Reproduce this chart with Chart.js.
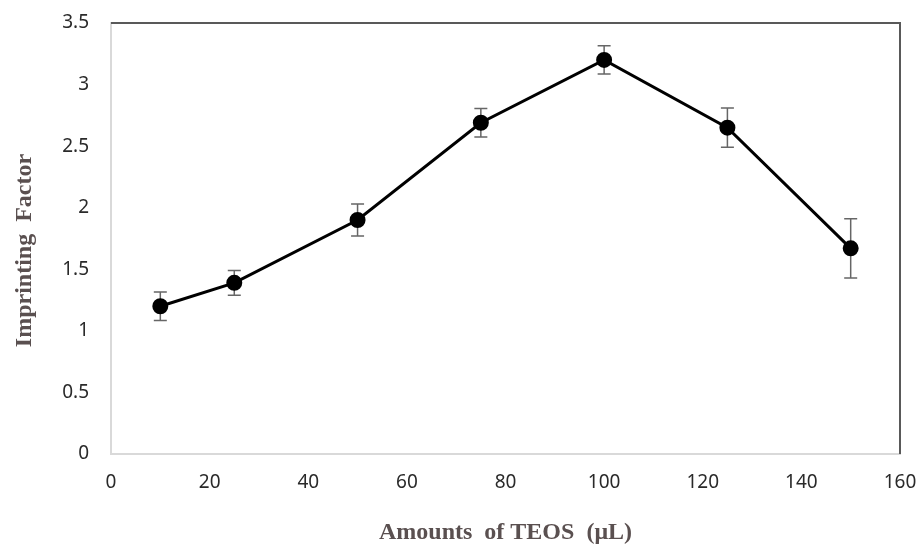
<!DOCTYPE html>
<html lang="en">
<head>
  <meta charset="UTF-8">
  <title>Imprinting Factor vs TEOS</title>
  <script src="https://cdn.jsdelivr.net/npm/chart.js"></script>
  <style>
    body { margin: 0; background: #fff; }
    #wrap { width: 923px; height: 550px; }
  </style>
</head>
<body>
  <div id="wrap"><canvas id="teosChart" width="923" height="550"></canvas></div>

  <script>
    // values
    const teosAmounts = [10, 25, 50, 75, 100, 125, 150];
    const imprintingFactor = [1.20, 1.39, 1.90, 2.69, 3.20, 2.65, 1.67];
    const errorSizes = [0.115, 0.10, 0.13, 0.115, 0.115, 0.16, 0.24];
    const xTicks = [0, 20, 40, 60, 80, 100, 120, 140, 160];
    const yTicks = [0, 0.5, 1, 1.5, 2, 2.5, 3, 3.5];

    const points = teosAmounts.map((x, i) => ({ x, y: imprintingFactor[i] }));

    // error bars + top/right frame lines
    const errorBarPlugin = {
      id: "errorBars",
      beforeDatasetsDraw(chart) {
        const { ctx, chartArea, scales: { x, y } } = chart;
        ctx.save();
        ctx.strokeStyle = "#595959";
        ctx.lineWidth = 2;
        ctx.beginPath();
        ctx.moveTo(chartArea.left, chartArea.top);
        ctx.lineTo(chartArea.right, chartArea.top);
        ctx.lineTo(chartArea.right, chartArea.bottom);
        ctx.stroke();

        ctx.lineWidth = 1.5;
        ctx.strokeStyle = "#666";
        teosAmounts.forEach((v, i) => {
          const px = x.getPixelForValue(v);
          const top = y.getPixelForValue(imprintingFactor[i] + errorSizes[i]);
          const bot = y.getPixelForValue(imprintingFactor[i] - errorSizes[i]);
          ctx.beginPath();
          ctx.moveTo(px, top); ctx.lineTo(px, bot);
          ctx.moveTo(px - 6.5, top); ctx.lineTo(px + 6.5, top);
          ctx.moveTo(px - 6.5, bot); ctx.lineTo(px + 6.5, bot);
          ctx.stroke();
        });
        ctx.restore();
      }
    };

    const tickFont = { family: "'Noto Sans', sans-serif", size: 19 };
    const titleFont = { family: "'Liberation Serif', 'Times New Roman', serif", size: 24, weight: "bold" };

    new Chart(document.getElementById("teosChart"), {
      type: "line",
      data: {
        datasets: [{
          data: points,
          borderColor: "#000",
          backgroundColor: "#000",
          borderWidth: 3,
          pointRadius: 6.5,
          pointHoverRadius: 6.5,
          tension: 0
        }]
      },
      options: {
        responsive: false,
        animation: false,
        events: [],
        layout: { padding: { top: 23, right: 23, left: 0, bottom: 0 } },
        plugins: { legend: { display: false }, tooltip: { enabled: false } },
        scales: {
          x: {
            type: "linear",
            min: 0,
            max: 160,
            afterBuildTicks: s => { s.ticks = xTicks.map(v => ({ value: v })); },
            grid: { display: false, drawTicks: false },
            border: { color: "#d9d9d9", width: 2 },
            ticks: { font: tickFont, color: "#2a2a2a", padding: 17, maxRotation: 0, callback: v => String(v) },
            title: {
              display: true,
              text: "Amounts  of TEOS  (μL)",
              font: titleFont,
              color: "#5a5050",
              padding: { top: 0, bottom: 3 }
            },
            afterFit: s => { s.height = 96; s.paddingLeft = 0; s.paddingRight = 0; }
          },
          y: {
            min: 0,
            max: 3.5,
            afterBuildTicks: s => { s.ticks = yTicks.map(v => ({ value: v })); },
            grid: { display: false, drawTicks: false },
            border: { color: "#d9d9d9", width: 2 },
            ticks: { font: tickFont, color: "#2a2a2a", padding: 22, callback: v => String(v) },
            title: {
              display: true,
              // trailing spaces nudge the centred title downward as in the original
              text: "Imprinting  Factor    ",
              font: titleFont,
              color: "#5a5050",
              padding: { top: 10, bottom: 0 }
            },
            afterFit: s => { s.width = 111; s.paddingTop = 0; s.paddingBottom = 0; }
          }
        }
      },
      plugins: [errorBarPlugin]
    });
  </script>
</body>
</html>
